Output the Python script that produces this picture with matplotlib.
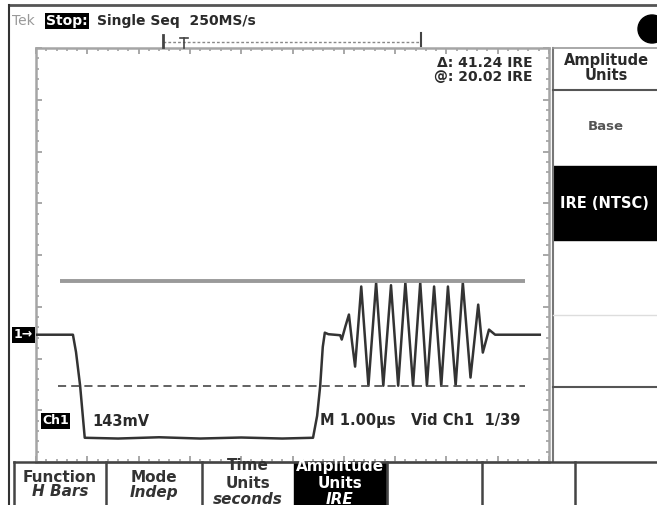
import matplotlib.pyplot as plt
from matplotlib.patches import Rectangle, Circle
from matplotlib.ticker import MultipleLocator

# waveform: time in us, level in IRE
trace_t = [0.00, 0.72, 0.78, 0.86, 0.95, 1.60, 2.40, 3.20, 4.00, 4.80, 5.40,
           5.48, 5.54, 5.59, 5.63, 5.70, 5.93, 5.96, 6.03, 6.10, 6.16, 6.22,
           6.34, 6.48, 6.63, 6.77, 6.92, 7.06, 7.20, 7.35,
           7.49, 7.62, 7.76, 7.90, 8.03, 8.18, 8.32, 8.47,
           8.62, 8.71, 8.83, 8.95, 9.82]
trace_ire = [-1.2, -1.2, -8.0, -21.2, -41.6, -41.9, -41.4, -41.9, -41.5, -41.9, -41.6,
             -33.0, -21.2, -6.0, -0.4, -1.0, -1.4, -3.1, 2.0, 6.7, -4.0, -13.7,
             17.7, -21.2, 19.2, -21.2, 18.2, -21.2, 19.2, -21.2,
             19.2, -21.2, 17.7, -21.2, 17.7, -21.2, 19.2, -18.0,
             10.6, -8.2, 0.8, -1.2, -1.2]

cursor_active = 20.02
cursor_delta = 41.24
cursor_start, cursor_end = 0.47, 9.53

menu_title = ["Amplitude", "Units"]
menu_items = ["Base", "IRE (NTSC)"]
buttons = [["Function", "H Bars"], ["Mode", "Indep"], ["Time", "Units", "seconds"],
           ["Amplitude", "Units", "IRE"]]

W, H = 657, 505
fig = plt.figure(figsize=(W / 100, H / 100), dpi=100)
fig.set_facecolor("white")
plt.rcParams["font.family"] = "DejaVu Sans"
plt.rcParams["font.weight"] = "bold"

def frac(x0, y0, x1, y1):
    return [x0 / W, 1 - y1 / H, (x1 - x0) / W, (y1 - y0) / H]

gx0, gy0, gx1, gy1 = 36, 48, 549, 462
ink = "#2a2a2a"

# graticule frame, 10 x 8 divisions
grid = fig.add_axes(frac(gx0, gy0, gx1, gy1), zorder=1)
grid.set_xlim(0, 10)
grid.set_ylim(0, 8)
grid.xaxis.set_major_locator(MultipleLocator(1))
grid.xaxis.set_minor_locator(MultipleLocator(0.2))
grid.yaxis.set_major_locator(MultipleLocator(1))
grid.yaxis.set_minor_locator(MultipleLocator(0.2))
grid.tick_params(which="both", direction="in", top=True, right=True,
                 labelleft=False, labelbottom=False, color="#999999")
grid.tick_params(which="major", length=4.5, width=1.2)
grid.tick_params(which="minor", length=2.5, width=1.1)
for s in grid.spines.values():
    s.set_color("#a5a5a5")
    s.set_linewidth(1.8)

# trace axes in real units
ax = fig.add_axes(frac(gx0, gy0, gx1, gy1), zorder=2)
ax.patch.set_visible(False)
ax.set_xlim(0, 10)
ax.set_ylim(-51.1, 111.2)
ax.axis("off")
ax.plot(trace_t, trace_ire, color="#333333", lw=1.8, solid_joinstyle="round")
ax.hlines(cursor_active, cursor_start, cursor_end, color="#9a9a9a", lw=2.8)
ax.hlines(cursor_active - cursor_delta, cursor_start - 0.04, cursor_end,
          color="#555555", lw=1.3, linestyles=(0, (4.5, 2.8)))

# screen chrome in pixel coordinates
bg = fig.add_axes([0, 0, 1, 1], zorder=3)
bg.patch.set_visible(False)
bg.set_xlim(0, W)
bg.set_ylim(H, 0)
bg.axis("off")

fs = 10.5
bg.plot([9, W], [5, 5], color="#555555", lw=2)
bg.plot([9, 9], [5, H], color="#333333", lw=1.5)

bg.text(12, 21, "Tek", color="#999999", fontsize=10, va="center", fontweight="normal")
bg.text(46, 21, "Stop:", color="white", fontsize=10, va="center",
        bbox=dict(boxstyle="square,pad=0.08", fc="black", ec="none"))
bg.text(97, 21, "Single Seq  250MS/s", color=ink, fontsize=10, va="center")

# record / trigger position bar
bg.plot([163, 421], [42, 42], color="#888888", lw=1, ls=(0, (2, 1.5)))
bg.plot([163, 163], [35, 47], color="#444444", lw=2)
bg.plot([184, 184], [38, 48], color="#444444", lw=1.2)
bg.plot([180, 188], [38, 38], color="#444444", lw=1.2)
bg.plot([421, 421], [33, 46], color="#444444", lw=1.5)

bg.add_patch(Circle((652, 29), 14, color="black"))

# cursor readouts
bg.text(533, 63, "\u0394: %.2f IRE" % cursor_delta, fontsize=10, ha="right", va="center",
        color=ink)
bg.text(533, 77, "@: %.2f IRE" % cursor_active, fontsize=10, ha="right", va="center",
        color=ink)

# channel marker and status line
bg.text(14, 335, "1\u2192", color="white", fontsize=9, va="center",
        bbox=dict(boxstyle="square,pad=0.15", fc="black", ec="none"))
bg.text(42, 421, "Ch1", color="white", fontsize=9, va="center",
        bbox=dict(boxstyle="square,pad=0.12", fc="black", ec="none"))
bg.text(92, 421, "143mV", fontsize=fs, va="center", color=ink)
bg.text(320, 421, "M 1.00\u00b5s   Vid Ch1  1/39", fontsize=fs, va="center", color=ink)

# side menu
bg.plot([553, 553], [48, 462], color="#777777", lw=1.5)
bg.plot([553, W], [48, 48], color="#999999", lw=1.2)
bg.plot([553, W], [90, 90], color="#555555", lw=1.5)
bg.text(606, 61, menu_title[0], fontsize=fs, ha="center", va="center", color=ink)
bg.text(606, 75, menu_title[1], fontsize=fs, ha="center", va="center", color=ink)
bg.text(606, 127, menu_items[0], fontsize=9.5, ha="center", va="center", color="#555555")
bg.add_patch(Rectangle((553, 166), W - 553, 74, color="black"))
bg.text(604, 203, menu_items[1], fontsize=10.5, ha="center", va="center", color="white")
bg.plot([553, W], [315, 315], color="#dddddd", lw=1)
bg.plot([553, W], [387, 387], color="#555555", lw=1.5)

# bottom buttons
bg.add_patch(Rectangle((294, 462), 93, H - 462, color="black"))
clip = Rectangle((14, 463), W - 14, H - 463, transform=bg.transData)
centers = [60, 154, 248, 340]
for cx, labels in zip(centers, buttons):
    col = "white" if cx == 340 else "#333333"
    ys = [478, 492] if len(labels) == 2 else [466, 483, 499]
    for i, (y, lab) in enumerate(zip(ys, labels)):
        style = "italic" if i == len(labels) - 1 else "normal"
        t = bg.text(cx, y, lab, fontsize=11, ha="center", va="center", color=col,
                    style=style)
        t.set_clip_path(clip)

bg.plot([14, W], [462, 462], color="#444444", lw=1.8)
bg.plot([14, 14], [462, H], color="#444444", lw=1.8)
for x in [106, 202, 387, 482, 575]:
    bg.plot([x, x], [462, H], color="#444444", lw=1.8)

plt.savefig("out.png", dpi=100)
